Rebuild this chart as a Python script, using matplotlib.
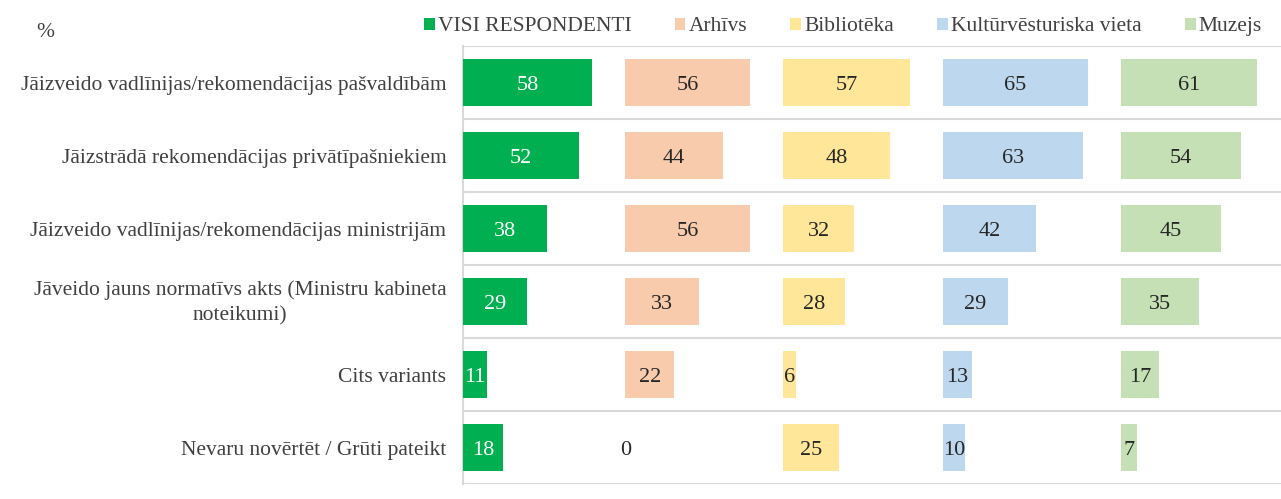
import numpy as np
import matplotlib.pyplot as plt
import matplotlib.transforms as mtransforms
from matplotlib.patches import Patch

plt.rcParams['font.family'] = ['Liberation Serif', 'DejaVu Serif']

# Dati
kategorijas = [
    "Jāizveido vadlīnijas/rekomendācijas pašvaldībām",
    "Jāizstrādā rekomendācijas privātīpašniekiem",
    "Jāizveido vadlīnijas/rekomendācijas ministrijām",
    "Jāveido jauns normatīvs akts (Ministru kabineta\nnoteikumi)",
    "Cits variants",
    "Nevaru novērtēt / Grūti pateikt",
]
grupas = ["VISI RESPONDENTI", "Arhīvs", "Bibliotēka", "Kultūrvēsturiska vieta", "Muzejs"]
visi = [58, 52, 38, 29, 11, 18]
arhivs = [56, 44, 56, 33, 22, 0]
biblioteka = [57, 48, 32, 28, 6, 25]
kultura = [65, 63, 42, 29, 13, 10]
muzejs = [61, 54, 45, 35, 17, 7]
serijas = [visi, arhivs, biblioteka, kultura, muzejs]

krasas = ["#00B050", "#F8CBAD", "#FFE699", "#BDD7EE", "#C5E0B4"]
teksta_krasas = ["white", "#262626", "#262626", "#262626", "#262626"]

fig = plt.figure(figsize=(12.81, 4.99), dpi=100)
ax = fig.add_axes([0.3614, 0.030, 0.6386, 0.8778])

y = np.arange(len(kategorijas))
atstarpe = 15
nobide = 0
for i, vert in enumerate(serijas):
    ax.barh(y, vert, left=nobide, height=0.65, color=krasas[i], label=grupas[i], zorder=3)
    for yy, v in zip(y, vert):
        ax.text(nobide + v / 2, yy, str(v), ha='center', va='center_baseline',
                fontsize=16, color=teksta_krasas[i], zorder=4)
    nobide += max(vert) + atstarpe

ax.set_xlim(0, 368)
ax.set_ylim(len(kategorijas) - 0.5, -0.5)
ax.set_yticks(y)
etiketes = ax.set_yticklabels(kategorijas, fontsize=15.5, color="#404040",
                              multialignment='center', linespacing=1.4)
ax.tick_params(axis='y', length=0, pad=12)
# divrindu etiķeti nedaudz uz augšu
nobid = mtransforms.ScaledTranslation(0, 0.04, fig.dpi_scale_trans)
etiketes[3].set_transform(etiketes[3].get_transform() + nobid)
ax.set_xticks([])
ax.set_yticks(np.arange(len(kategorijas) + 1) - 0.5, minor=True)
ax.tick_params(axis='y', which='minor', length=0)
ax.grid(axis='y', which='minor', color="#D9D9D9", linewidth=1.5, zorder=0)
for s in ['top', 'right', 'bottom']:
    ax.spines[s].set_visible(False)
ax.spines['left'].set_color("#D9D9D9")
ax.spines['left'].set_linewidth(1.5)

fig.text(0.035, 0.935, "%", fontsize=15.5, color="#404040", ha='center', va='center')

roktura = [Patch(facecolor=c, edgecolor='none') for c in krasas]
fig.legend(roktura, grupas, loc='center', bbox_to_anchor=(0.658, 0.946), ncol=5,
           frameon=False, fontsize=15.5, handlelength=0.5, handleheight=0.5,
           handletextpad=0.15, columnspacing=2.0, labelcolor="#404040")

fig.savefig("out.png", dpi=100)
